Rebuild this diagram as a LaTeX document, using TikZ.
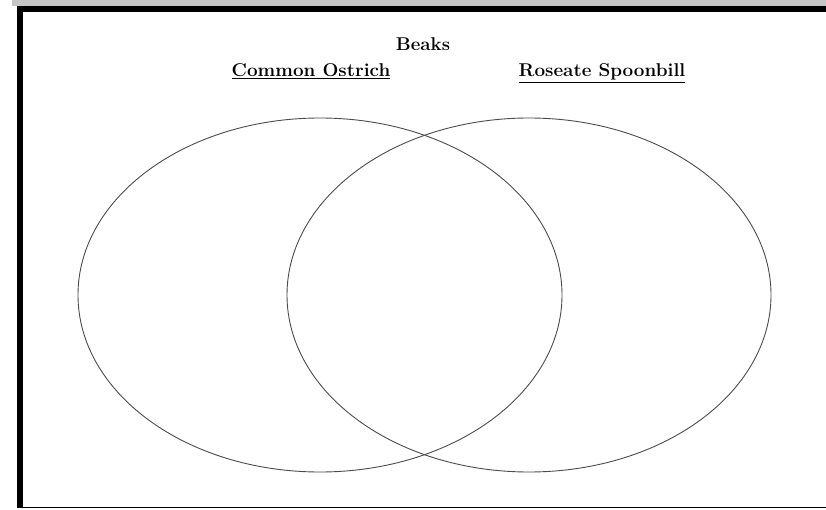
\documentclass[tikz,border=0pt]{standalone}
\usetikzlibrary{shapes.geometric}
\begin{document}
\begin{tikzpicture}[x=1pt,y=1pt,
  venn/.style={ellipse, draw=black!70, line width=0.9pt, minimum width=484pt, minimum height=354pt, inner sep=0pt},
  heading/.style={anchor=base, inner sep=0pt, font=\fontsize{18.5}{21}\selectfont\bfseries}]
\useasboundingbox (0,0) rectangle (826,509);
\fill[white] (0,0) rectangle (826,509);
% frame
\fill[gray!45] (12,503) rectangle (826,509);
\fill[black] (17,497) rectangle (826,503);
\fill[black] (17,1) rectangle (23,503);
\fill[black] (17,1) rectangle (826,2.3);
% ellipses
\node[venn] (left) at (320,214) {};
\node[venn] (right) at (529,214) {};
% labels
\node[heading] (beaks) at (423,458) {\scalebox{1.01}[1]{Beaks}};
\node[heading] (ostrich) at (311,432) {\scalebox{1.02}[1]{\underline{Common Ostrich}}};
\node[heading] (spoonbill) at (602,432) {\scalebox{1.02}[1]{\underline{Roseate Spoonbill}}};
\end{tikzpicture}
\end{document}
